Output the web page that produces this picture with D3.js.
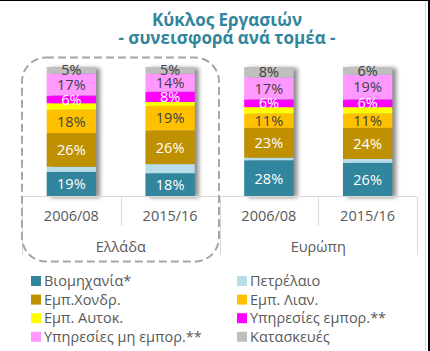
<!DOCTYPE html>
<html>
<head>
<meta charset="utf-8">
<script src="https://cdn.jsdelivr.net/npm/d3@7"></script>
<style>
  body { margin: 0; background: #fff; }
  svg { display: block; font-family: 'Open Sans', 'Noto Sans', sans-serif; }
</style>
</head>
<body>
<div class="vis-stack"></div>
<script>
const periods = ['2006/08', '2015/16', '2006/08', '2015/16'];
const regions = ['Ελλάδα', 'Ελλάδα', 'Ευρώπη', 'Ευρώπη'];
const regionNames = ['Ελλάδα', 'Ευρώπη'];

const seriesNames = ['Βιομηχανία*', 'Πετρέλαιο', 'Εμπ.Χονδρ.', 'Εμπ. Λιαν.',
    'Εμπ. Αυτοκ.', 'Υπηρεσίες εμπορ.**', 'Υπηρεσίες μη εμπορ.**', 'Κατασκευές'];

const industry = [19, 18, 28, 26];
const petroleum = [4, 7, 2, 3];
const wholesale = [26, 26, 23, 24];
const retail = [18, 19, 11, 11];
const autoTrade = [5, 3, 5, 5];
const marketServices = [6, 8, 6, 6];
const nonMarketServices = [17, 14, 17, 19];
const construction = [5, 5, 8, 6];

const seriesValues = [industry, petroleum, wholesale, retail, autoTrade,
    marketServices, nonMarketServices, construction];

const colors = ['#31859C', '#B7DEE8', '#BF9000', '#FFC000', '#FFFF00', '#FF00FF', '#FF99FF', '#BFBFBF'];
const labelColors = ['#fff', null, '#fff', '#404040', null, '#fff', '#404040', '#404040'];

const W = 430, H = 351;

const svg = d3.select('.vis-stack')
    .append('svg')
    .attr('width', W)
    .attr('height', H);

const defs = svg.append('defs');
const shadow = defs.append('filter')
    .attr('id', 'shadow')
    .attr('x', '-20%').attr('y', '-10%')
    .attr('width', '160%').attr('height', '130%');
shadow.append('feGaussianBlur').attr('in', 'SourceAlpha').attr('stdDeviation', 2.2);
shadow.append('feOffset').attr('dx', 4).attr('dy', 1).attr('result', 'b');
shadow.append('feComponentTransfer').append('feFuncA').attr('type', 'linear').attr('slope', 0.45);

// frame
svg.append('line')
    .attr('x1', 425.5).attr('x2', 425.5).attr('y1', 0).attr('y2', H)
    .attr('stroke', '#d9d9d9');
svg.append('rect')
    .attr('x', 428).attr('y', 0).attr('width', 2).attr('height', H)
    .attr('fill', '#000');
svg.append('rect')
    .attr('x', 0).attr('y', 0).attr('width', W).attr('height', 1)
    .attr('fill', '#000');

// title
const title = svg.append('text')
    .attr('text-anchor', 'middle')
    .attr('fill', '#31859C')
    .style('font-size', '17px')
    .style('font-weight', 'bold');
title.append('tspan').attr('x', 227).attr('y', 26).text('Κύκλος Εργασιών');
title.append('tspan').attr('x', 227).attr('y', 44).text('- συνεισφορά ανά τομέα -');

// data table
const dataset = periods.map((p, i) => {
    const row = {key: i, period: p, region: regions[i]};
    seriesNames.forEach((s, j) => { row[s] = seriesValues[j][i]; });
    return row;
});

const x = d3.scaleBand()
    .domain(dataset.map(d => d.key))
    .range([22, 417]);
const barW = x.bandwidth() * 0.5;

const y = d3.scaleLinear()
    .domain([0, 100])
    .range([196.5, 67]);

const stack = d3.stack().keys(seriesNames);
const stacked = stack(dataset);

// shadows
svg.append('g')
    .selectAll('rect')
    .data(dataset)
    .enter().append('rect')
    .attr('x', d => x(d.key) + (x.bandwidth() - barW) / 2)
    .attr('width', barW)
    .attr('y', d => y(d3.sum(seriesNames, s => d[s])))
    .attr('height', d => y(0) - y(d3.sum(seriesNames, s => d[s])))
    .attr('fill', '#000')
    .attr('filter', 'url(#shadow)');

const layer = svg.append('g')
    .selectAll('g')
    .data(stacked)
    .enter().append('g')
    .attr('fill', (d, i) => colors[i]);

layer.selectAll('rect')
    .data(d => d)
    .enter().append('rect')
    .attr('x', d => x(d.data.key) + (x.bandwidth() - barW) / 2)
    .attr('width', barW)
    .attr('y', d => y(d[1]))
    .attr('height', d => y(d[0]) - y(d[1]));

// value labels
stacked.forEach((s, i) => {
    if (!labelColors[i]) return;
    svg.append('g')
        .selectAll('text')
        .data(s)
        .enter().append('text')
        .attr('x', d => x(d.data.key) + x.bandwidth() / 2)
        .attr('y', d => y((d[0] + d[1]) / 2))
        .attr('dy', '0.36em')
        .attr('text-anchor', 'middle')
        .attr('fill', labelColors[i])
        .style('font-size', '14.5px')
        .text(d => (d[1] - d[0]) + '%');
});

// axis lines
const axisCol = '#d9d9d9';
const axisG = svg.append('g').attr('stroke', axisCol).attr('stroke-width', 1);
axisG.append('line')
    .attr('x1', x.range()[0]).attr('x2', x.range()[1])
    .attr('y1', 196.5).attr('y2', 196.5);

dataset.forEach((d, i) => {
    if (i === 0) return;
    const isGroup = regions[i] !== regions[i - 1];
    axisG.append('line')
        .attr('x1', Math.round(x(d.key)) + 0.5).attr('x2', Math.round(x(d.key)) + 0.5)
        .attr('y1', 196.5).attr('y2', isGroup ? 255 : 226);
});
[x.range()[0], x.range()[1]].forEach(px => {
    axisG.append('line')
        .attr('x1', px + 0.5).attr('x2', px + 0.5)
        .attr('y1', 196.5).attr('y2', 255);
});

svg.append('g')
    .selectAll('text')
    .data(dataset)
    .enter().append('text')
    .attr('x', d => x(d.key) + x.bandwidth() / 2)
    .attr('y', 221)
    .attr('text-anchor', 'middle')
    .attr('fill', '#595959')
    .style('font-size', '14.5px')
    .text(d => d.period);

svg.append('g')
    .selectAll('text')
    .data(regionNames)
    .enter().append('text')
    .attr('x', r => {
        const ks = dataset.filter(d => d.region === r).map(d => d.key);
        return (x(ks[0]) + x(ks[ks.length - 1]) + x.bandwidth()) / 2;
    })
    .attr('y', 252)
    .attr('text-anchor', 'middle')
    .attr('fill', '#595959')
    .style('font-size', '14.5px')
    .text(r => r);

// dashed highlight round Ελλάδα
svg.append('rect')
    .attr('x', 22).attr('y', 57.5)
    .attr('width', 197).attr('height', 204)
    .attr('rx', 24).attr('ry', 24)
    .attr('fill', 'none')
    .attr('stroke', '#a6a6a6')
    .attr('stroke-width', 2)
    .attr('stroke-dasharray', '8,4');

// legend
const legendG = svg.selectAll('.legend')
    .data(seriesNames)
    .enter().append('g')
    .attr('class', 'legend')
    .attr('transform', (d, i) => 'translate(' + (i % 2 === 0 ? 31 : 237) + ',' + (276 + Math.floor(i / 2) * 18.6) + ')');

legendG.append('rect')
    .attr('width', 10)
    .attr('height', 10)
    .attr('fill', (d, i) => colors[i]);

legendG.append('text')
    .text(d => d)
    .attr('x', 13)
    .attr('y', 10)
    .attr('fill', '#595959')
    .style('font-size', '14.5px');
</script>
</body>
</html>
